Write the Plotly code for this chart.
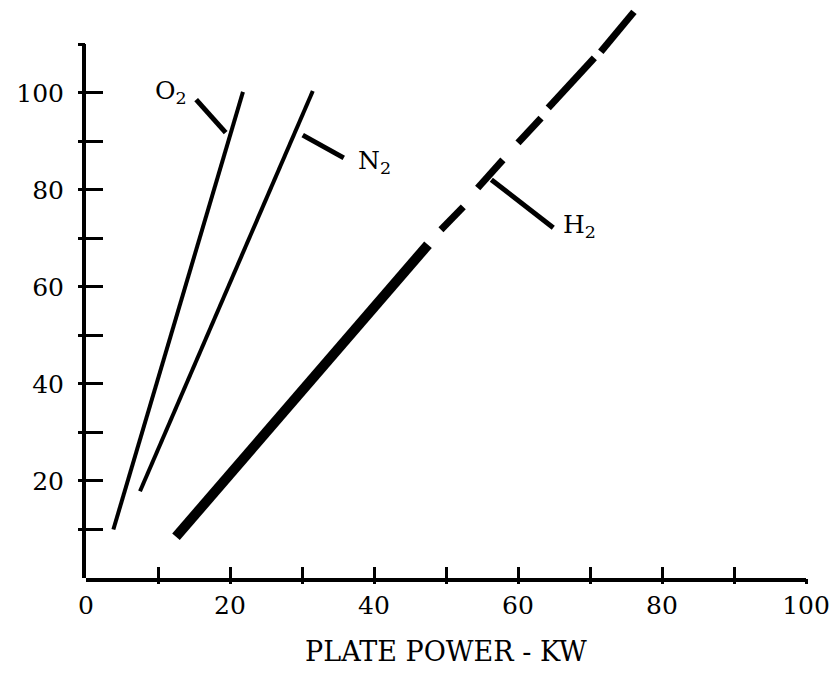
import plotly.graph_objects as go

# ---- data ----
o2_x = [3.8, 21.8]
o2_y = [10.0, 100.2]
n2_x = [7.5, 31.5]
n2_y = [17.9, 100.4]
h2_solid_x = [12.5, 47.5]
h2_solid_y = [8.5, 68.7]
h2_dash_x = [49.3, 52.4, None, 54.4, 57.9, None, 60.0, 63.2, None, 64.2, 70.6, None, 71.5, 76.1]
h2_dash_y = [71.8, 76.5, None, 80.4, 86.2, None, 89.7, 94.8, None, 96.9, 107.2, None, 108.5, 116.7]

leader_o2_x = [15.3, 19.4]
leader_o2_y = [98.6, 91.8]
leader_n2_x = [30.1, 35.8]
leader_n2_y = [91.3, 86.6]
leader_h2_x = [56.3, 64.9]
leader_h2_y = [82.1, 72.2]

label_text = ["O<sub>2</sub>", "N<sub>2</sub>", "H<sub>2</sub>"]
label_x = [11.8, 40.0, 68.6]
label_y = [100.2, 85.8, 72.6]

x_tickvals = [0, 20, 40, 60, 80, 100]
x_ticktext = ["0", "20", "40", "60", "80", "100"]
x_minorvals = [10, 30, 50, 70, 90]
x_allticks = [10, 20, 30, 40, 50, 60, 70, 80, 90, 100]
y_tickvals = [20, 40, 60, 80, 100]
y_ticktext = ["20", "40", "60", "80", "100"]
y_minorvals = [10, 30, 50, 70, 90, 110]
y_allticks = [10, 20, 30, 40, 50, 60, 70, 80, 90, 100, 110]
x_title = "PLATE POWER - KW"

FONT = "DejaVu Serif"
BLACK = "black"
YMAX = 117.5
YAXIS_TOP = 110

fig = go.Figure()
fig.add_trace(go.Scatter(x=o2_x, y=o2_y, mode="lines", line=dict(color=BLACK, width=4)))
fig.add_trace(go.Scatter(x=n2_x, y=n2_y, mode="lines", line=dict(color=BLACK, width=4)))
fig.add_trace(go.Scatter(x=h2_solid_x, y=h2_solid_y, mode="lines", line=dict(color=BLACK, width=10)))
fig.add_trace(go.Scatter(x=h2_dash_x, y=h2_dash_y, mode="lines", connectgaps=False,
                         line=dict(color=BLACK, width=7)))
for lx, ly in [(leader_o2_x, leader_o2_y), (leader_n2_x, leader_n2_y), (leader_h2_x, leader_h2_y)]:
    fig.add_trace(go.Scatter(x=lx, y=ly, mode="lines", line=dict(color=BLACK, width=5)))

# helper empty traces so overlay axes render
fig.add_trace(go.Scatter(x=[None], y=[None], xaxis="x", yaxis="y2", showlegend=False))
fig.add_trace(go.Scatter(x=[None], y=[None], xaxis="x", yaxis="y3", showlegend=False))
fig.add_trace(go.Scatter(x=[None], y=[None], xaxis="x2", yaxis="y", showlegend=False))

for t, x, y in zip(label_text, label_x, label_y):
    fig.add_annotation(x=x, y=y, text=t, showarrow=False, xanchor="center", yanchor="middle",
                       font=dict(family=FONT, size=25, color=BLACK))

fig.update_layout(
    width=831, height=672,
    margin=dict(l=78, r=33, t=0, b=102),
    paper_bgcolor="white", plot_bgcolor="rgba(0,0,0,0)",
    showlegend=False,
    font=dict(family=FONT, color=BLACK),
    xaxis=dict(range=[0, 100], domain=[0, 1], anchor="y", showgrid=False, zeroline=False,
               automargin=False,
               showline=True, linewidth=4, linecolor=BLACK,
               ticks="inside", ticklen=11, tickwidth=3, tickcolor=BLACK,
               tickmode="array", tickvals=x_tickvals, ticktext=x_ticktext,
               minor=dict(tickmode="array", tickvals=x_minorvals, ticks="inside", ticklen=11,
                          tickwidth=3, tickcolor=BLACK, showgrid=False),
               tickfont=dict(family=FONT, size=25, color=BLACK), ticklabelstandoff=2,
               title=dict(text=x_title, font=dict(family=FONT, size=27, color=BLACK), standoff=24)),
    xaxis2=dict(range=[0, 100], overlaying="x", anchor="y", side="bottom", showgrid=False,
                automargin=False,
                zeroline=False, showline=False, ticks="outside", ticklen=5, tickwidth=3,
                tickcolor=BLACK, tickmode="array", tickvals=x_allticks, showticklabels=False),
    yaxis=dict(range=[0, YMAX], domain=[0, 1], visible=False, automargin=False),
    yaxis2=dict(range=[0, YAXIS_TOP], domain=[0, YAXIS_TOP / YMAX], anchor="x", showgrid=False,
                zeroline=False, automargin=False,
                showline=True, linewidth=4, linecolor=BLACK,
                ticks="inside", ticklen=17, tickwidth=3, tickcolor=BLACK,
                tickmode="array", tickvals=y_tickvals, ticktext=y_ticktext,
                minor=dict(tickmode="array", tickvals=y_minorvals, ticks="inside", ticklen=17,
                           tickwidth=3, tickcolor=BLACK, showgrid=False),
                tickfont=dict(family=FONT, size=25, color=BLACK), ticklabelstandoff=13),
    yaxis3=dict(range=[0, YAXIS_TOP], overlaying="y2", anchor="x", side="left", showgrid=False,
                automargin=False,
                zeroline=False, showline=False, ticks="outside", ticklen=7, tickwidth=3,
                tickcolor=BLACK, tickmode="array", tickvals=y_allticks, showticklabels=False),
)

fig.write_html("out.html")
